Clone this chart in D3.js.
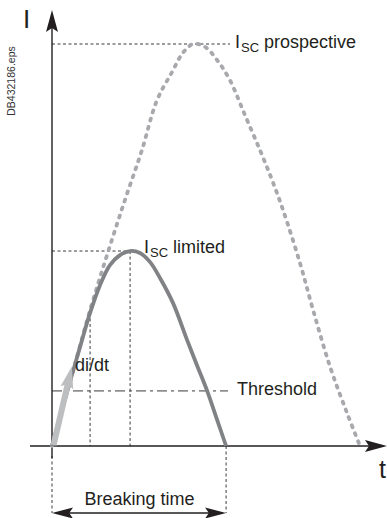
<!DOCTYPE html>
<html>
<head>
<meta charset="utf-8">
<script src="https://cdn.jsdelivr.net/npm/d3@7"></script>
<style>
  html, body { margin: 0; padding: 0; background: #fff; }
  svg { display: block; font-family: "Liberation Sans", Arial, Helvetica, sans-serif; }
</style>
</head>
<body>
<div id="chart-container"></div>
<script>
// =====================
// Data (time and current in arbitrary units)
// =====================
const PROSPECTIVE_T = [0, 0.625, 1.19, 1.72, 2.28, 2.81, 3.28, 3.75, 4.09, 4.41, 4.78, 5.16, 5.56, 6.03, 6.5, 6.875, 7.22, 7.75, 8.16, 8.69, 9.22, 9.625];
const PROSPECTIVE_I = [0, 1.77, 3.38, 4.75, 6.12, 7.36, 8.6, 9.3, 9.78, 10, 9.93, 9.6, 9.1, 8.23, 7.36, 6.62, 5.87, 4.55, 3.38, 1.97, 0.82, 0];

const LIMITED_T = [0, 0.31, 0.625, 0.94, 1.19, 1.5, 1.81, 2.125, 2.44, 2.75, 3.06, 3.375, 3.78, 4.22, 4.53, 4.84, 5.16, 5.44];
const LIMITED_I = [0, 0.9, 1.77, 2.64, 3.31, 4.0, 4.5, 4.75, 4.85, 4.8, 4.58, 4.18, 3.56, 2.64, 2.01, 1.39, 0.65, 0];

const THRESHOLD = 1.37;
const PEAK_PROSPECTIVE = { t: 4.41, i: 10 };
const PEAK_LIMITED = { t: 2.44, i: 4.85 };
const CROSSING = { t: 1.19, i: 3.31 };
const BREAK_END = 5.44;
const DIDT_FROM = { t: 0.05, i: 0.02 };
const DIDT_TO = { t: 0.62, i: 1.98 };

const FILE_LABEL = "DB432186.eps";

// =====================
// SVG setup
// =====================
const svgWidth = 387;
const svgHeight = 518;

const x = d3.scaleLinear().domain([0, 10]).range([52, 372]);
const y = d3.scaleLinear().domain([0, 10]).range([446, 44]);

const x0 = x(0), y0 = y(0);

const svg = d3.select("#chart-container").append("svg")
  .attr("width", svgWidth)
  .attr("height", svgHeight);

svg.append("rect").attr("width", svgWidth).attr("height", svgHeight).attr("fill", "#fff");

const INK = "#231f20";
const DASH = "#3a3a3a";

// arrow head with a slightly notched back
function head(tx, ty, angle, len, hw) {
  const ux = Math.cos(angle), uy = Math.sin(angle);
  const px = -uy, py = ux;
  const bx = tx - ux * len, by = ty - uy * len;
  const nx = tx - ux * len * 0.82, ny = ty - uy * len * 0.82;
  return `M${tx},${ty}L${bx + px * hw},${by + py * hw}L${nx},${ny}L${bx - px * hw},${by - py * hw}Z`;
}

function dashed(x1, y1, x2, y2, pattern = "3,2.5") {
  svg.append("line")
    .attr("x1", x1).attr("y1", y1).attr("x2", x2).attr("y2", y2)
    .attr("stroke", DASH).attr("stroke-width", 1)
    .attr("stroke-dasharray", pattern);
}

// =====================
// Guides
// =====================
dashed(x0, y(PEAK_PROSPECTIVE.i), 230, y(PEAK_PROSPECTIVE.i));
dashed(x0, y(PEAK_LIMITED.i), x(PEAK_LIMITED.t) + 4, y(PEAK_LIMITED.i));
dashed(x(PEAK_LIMITED.t), y(PEAK_LIMITED.i), x(PEAK_LIMITED.t), y0);
dashed(x(CROSSING.t), y(CROSSING.i), x(CROSSING.t), y0);
dashed(x0, y(THRESHOLD), 228, y(THRESHOLD), "10,4,3,4");
dashed(x0, y0 + 10, x0, 513);
dashed(x(BREAK_END), y0, x(BREAK_END), 513);

// =====================
// Axes
// =====================
svg.append("line")
  .attr("x1", 30).attr("y1", y0).attr("x2", 370).attr("y2", y0)
  .attr("stroke", INK).attr("stroke-width", 1.4);
svg.append("path").attr("d", head(387, y0, 0, 22, 6)).attr("fill", INK);

svg.append("line")
  .attr("x1", x0).attr("y1", y0 + 12).attr("x2", x0).attr("y2", 28)
  .attr("stroke", INK).attr("stroke-width", 1.4);
svg.append("path").attr("d", head(x0, 10, -Math.PI / 2, 22, 6)).attr("fill", INK);

// =====================
// Curves
// =====================
const line = d3.line()
  .x(d => x(d[0]))
  .y(d => y(d[1]))
  .curve(d3.curveCatmullRom);

svg.append("path")
  .datum(d3.zip(PROSPECTIVE_T, PROSPECTIVE_I))
  .attr("d", line)
  .attr("fill", "none")
  .attr("stroke", "#a7a9ac")
  .attr("stroke-width", 3.8)
  .attr("stroke-linecap", "round")
  .attr("stroke-dasharray", "2,6.5");

svg.append("path")
  .datum(d3.zip(LIMITED_T, LIMITED_I))
  .attr("d", line)
  .attr("fill", "none")
  .attr("stroke", "#808285")
  .attr("stroke-width", 3.8)
  .attr("stroke-linecap", "butt");

// di/dt arrow, drawn over the start of the limited curve
const ax1 = x(DIDT_FROM.t), ay1 = y(DIDT_FROM.i);
const ax2 = x(DIDT_TO.t), ay2 = y(DIDT_TO.i);
const ang = Math.atan2(ay2 - ay1, ax2 - ax1);
svg.append("line")
  .attr("x1", ax1).attr("y1", ay1)
  .attr("x2", ax2 - Math.cos(ang) * 16).attr("y2", ay2 - Math.sin(ang) * 16)
  .attr("stroke", "#bcbec0").attr("stroke-width", 6);
svg.append("path").attr("d", head(ax2, ay2, ang, 22, 6.5)).attr("fill", "#bcbec0");

// =====================
// Breaking time
// =====================
const by = 513;
svg.append("line")
  .attr("x1", x0 + 16).attr("y1", by).attr("x2", x(BREAK_END) - 16).attr("y2", by)
  .attr("stroke", INK).attr("stroke-width", 1.4);
svg.append("path").attr("d", head(x0, by, Math.PI, 21, 5.5)).attr("fill", INK);
svg.append("path").attr("d", head(x(BREAK_END), by, 0, 21, 5.5)).attr("fill", INK);

// =====================
// Labels
// =====================
const txt = (tx, ty, s, size = 18) => svg.append("text")
  .attr("x", tx).attr("y", ty)
  .attr("font-size", size)
  .attr("fill", INK)
  .text(s);

function iscLabel(tx, ty, rest) {
  const t = svg.append("text").attr("x", tx).attr("y", ty).attr("font-size", 18).attr("fill", INK);
  t.append("tspan").text("I");
  t.append("tspan").attr("font-size", 13).attr("dy", 4).attr("dx", 1).text("SC");
  t.append("tspan").attr("dy", -4).text(" " + rest);
}

iscLabel(235, y(PEAK_PROSPECTIVE.i) + 4, "prospective");
iscLabel(144, y(PEAK_LIMITED.i) + 2, "limited");
txt(237, y(THRESHOLD) + 4, "Threshold");
txt(75, 371, "di/dt");

svg.append("text")
  .attr("x", (x0 + x(BREAK_END)) / 2 + 0.5)
  .attr("y", 505)
  .attr("text-anchor", "middle")
  .attr("font-size", 18)
  .attr("fill", INK)
  .text("Breaking time");

txt(23, 28, "I", 26);
txt(379, 478, "t", 25);

svg.append("text")
  .attr("transform", "translate(15,81) rotate(-90)")
  .attr("text-anchor", "middle")
  .attr("font-size", 10.5)
  .attr("fill", "#333")
  .text(FILE_LABEL);
</script>
</body>
</html>
